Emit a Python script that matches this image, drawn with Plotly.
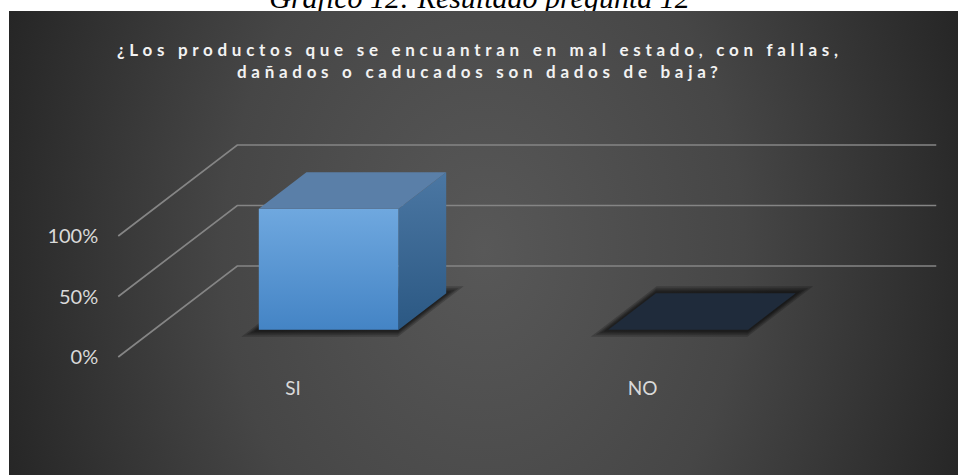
import base64
import plotly.graph_objects as go

# ---------------- data ----------------
categories = ["SI", "NO"]
shares = [1.0, 0.0]                      # share of answers per category
value_ticks = [0.0, 0.5, 1.0]
value_tick_labels = ["0%", "50%", "100%"]
chart_title = [
    "¿Los productos que se encuantran en mal estado, con fallas,",
    "dañados o caducados son dados de baja?",
]
figure_caption = "Gráfico 12: Resultado pregunta 12"

# ---------------- page and oblique 3-D projection ----------------
W, H = 959, 475
BOX_LEFT, BOX_TOP, BOX_RIGHT = 9, 11, 958     # dark chart area on the white page
ORIGIN_PX = (293.0, 357.0)    # screen point of category 0, value 0 on the front edge of the floor
PX_PER_CAT = 349.5
PX_PER_VAL = 121.0
DEPTH_PX = (119.0, 91.0)      # screen shift from the front to the back wall
DX = DEPTH_PX[0] / PX_PER_CAT
DY = DEPTH_PX[1] / PX_PER_VAL

BAR_HALF = 0.2                # half width of a column in category units
BAR_D0, BAR_D1 = 0.3, 0.7     # depth slot occupied by the columns

FONT = "Lato"
LABEL_COLOR = "#d9d9d9"
GRID_COLOR = "#858585"


def P(u, v, d):
    """Category/value/depth -> axis coordinates of the projected scene."""
    return u + d * DX, v + d * DY


def polygon(points):
    xy = [P(*p) for p in points]
    xs = [p[0] for p in xy] + [xy[0][0]]
    ys = [p[1] for p in xy] + [xy[0][1]]
    return xs, ys


def face(points, color=None, gradient=None):
    xs, ys = polygon(points)
    kw = dict(x=xs, y=ys, mode="lines", fill="toself", hoverinfo="skip",
              showlegend=False, line=dict(width=0))
    if gradient:
        kw["fillgradient"] = dict(type="vertical", colorscale=gradient)
    else:
        kw["fillcolor"] = color
    return go.Scatter(**kw)


traces = []

# walls: value gridlines running up the side wall and across the back wall
n = len(categories)
for t in value_ticks:
    pts = [P(-0.5, t, 0.0), P(-0.5, t, 1.0), P(n - 0.5, t, 1.0)]
    traces.append(go.Scatter(
        x=[p[0] for p in pts], y=[p[1] for p in pts], mode="lines",
        line=dict(color=GRID_COLOR, width=1.7), hoverinfo="skip", showlegend=False))

# columns
for i, v in enumerate(shares):
    u0, u1 = i - BAR_HALF, i + BAR_HALF
    # soft shadow below the base
    for e in [7.0, 5.0, 3.5, 2.0]:
        eu = e * 1.2 / PX_PER_CAT
        ed = e / DEPTH_PX[1]
        traces.append(face([(u0 - eu, 0, BAR_D0 - ed), (u1 + eu, 0, BAR_D0 - ed),
                            (u1 + eu, 0, BAR_D1 + ed), (u0 - eu, 0, BAR_D1 + ed)],
                           color="rgba(0,0,0,0.2)"))
    # base
    traces.append(face([(u0, 0, BAR_D0), (u1, 0, BAR_D0), (u1, 0, BAR_D1), (u0, 0, BAR_D1)],
                       color="#1f2b3b"))
    if v > 0:
        # front
        traces.append(face([(u0, 0, BAR_D0), (u1, 0, BAR_D0), (u1, v, BAR_D0), (u0, v, BAR_D0)],
                           gradient=[[0, "#4484c5"], [1, "#6fa8df"]]))
        # right side
        traces.append(face([(u1, 0, BAR_D0), (u1, 0, BAR_D1), (u1, v, BAR_D1), (u1, v, BAR_D0)],
                           gradient=[[0, "#2b5883"], [1, "#4b77a3"]]))
        # top
        traces.append(face([(u0, v, BAR_D0), (u1, v, BAR_D0), (u1, v, BAR_D1), (u0, v, BAR_D1)],
                           color="#5a7fa8"))

# figure caption above the chart, clipped at the top edge of the chart area
traces.append(go.Scatter(
    x=[0.5], y=[0], mode="text", text=[figure_caption], textposition="middle center",
    textfont=dict(family="Liberation Serif", size=30, style="italic", color="black"),
    xaxis="x2", yaxis="y2", cliponaxis=True, hoverinfo="skip", showlegend=False))

fig = go.Figure(traces)

# radial-gradient backdrop of the chart area
bw, bh = BOX_RIGHT - BOX_LEFT, H - BOX_TOP
cx, cy = 484 - BOX_LEFT, 250 - BOX_TOP
svg = (
    f"<svg xmlns='http://www.w3.org/2000/svg' width='{bw}' height='{bh}' "
    f"viewBox='0 0 {bw} {bh}' preserveAspectRatio='none'>"
    f"<defs><radialGradient id='g' gradientUnits='userSpaceOnUse' cx='{cx}' cy='{cy}' r='520' "
    f"gradientTransform='translate({cx} {cy}) scale(1 1.35) translate({-cx} {-cy})'>"
    "<stop offset='0' stop-color='#585858'/>"
    "<stop offset='0.5' stop-color='#464646'/>"
    "<stop offset='1' stop-color='#242424'/>"
    "</radialGradient></defs>"
    f"<rect width='{bw}' height='{bh}' fill='url(#g)'/></svg>"
)
bg_src = "data:image/svg+xml;base64," + base64.b64encode(svg.encode()).decode()

x_range = [-ORIGIN_PX[0] / PX_PER_CAT, (W - ORIGIN_PX[0]) / PX_PER_CAT]
y_range = [(ORIGIN_PX[1] - H) / PX_PER_VAL, ORIGIN_PX[1] / PX_PER_VAL]

annotations = []
for k, line in enumerate(chart_title):
    annotations.append(dict(
        text=f"<span style='letter-spacing:4.7px'>{line}</span>",
        xref="paper", yref="paper", x=0.5, y=1 - (49 + 23 * k) / H,
        xanchor="center", yanchor="middle", showarrow=False,
        font=dict(family=FONT, size=17, weight="bold", color="#f2f2f2")))

fig.update_layout(
    width=W, height=H,
    margin=dict(l=0, r=0, t=0, b=0),
    paper_bgcolor="white", plot_bgcolor="rgba(0,0,0,0)",
    showlegend=False,
    images=[dict(source=bg_src, xref="paper", yref="paper",
                 x=BOX_LEFT / W, y=1 - BOX_TOP / H, sizex=bw / W, sizey=bh / H,
                 xanchor="left", yanchor="top", sizing="stretch", layer="below")],
    annotations=annotations,
    xaxis=dict(domain=[0, 1], range=x_range, anchor="free", position=1 - ORIGIN_PX[1] / H,
               showgrid=False, zeroline=False, showline=False, ticks="",
               tickvals=list(range(n)), ticktext=categories, ticklabelstandoff=18,
               tickfont=dict(family=FONT, size=19, color=LABEL_COLOR),
               automargin=False, fixedrange=True),
    yaxis=dict(domain=[0, 1], range=y_range, anchor="free",
               position=(ORIGIN_PX[0] - 0.5 * PX_PER_CAT) / W,
               showgrid=False, zeroline=False, showline=False, ticks="",
               tickvals=value_ticks, ticktext=value_tick_labels, ticklabelstandoff=20,
               tickfont=dict(family=FONT, size=20, color=LABEL_COLOR),
               automargin=False, fixedrange=True),
    xaxis2=dict(domain=[0, 1], range=[0, 1], visible=False, anchor="y2", fixedrange=True),
    yaxis2=dict(domain=[1 - BOX_TOP / H, 1], range=[BOX_TOP, 0], visible=False,
                anchor="x2", fixedrange=True),
)

fig.write_html("out.html")
